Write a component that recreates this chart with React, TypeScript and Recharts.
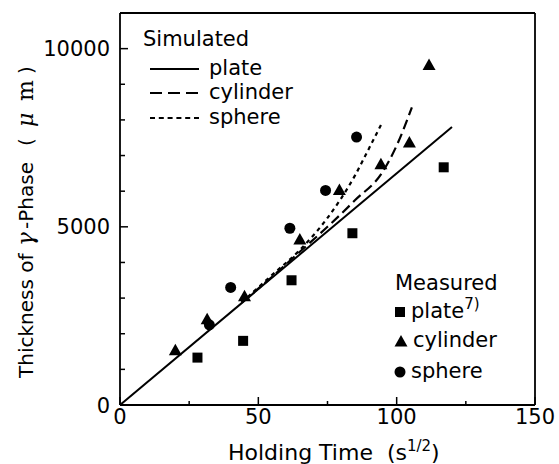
import React from 'react';
import { ComposedChart, Line, Scatter, XAxis, YAxis } from 'recharts';

const W = 559;
const H = 464;
const FONT = '"DejaVu Sans", "Liberation Sans", sans-serif';
const SERIF = '"DejaVu Serif", "Liberation Serif", serif';

// axis ticks
const X_TICKS = [0, 25, 50, 75, 100, 125, 150];
const X_MAJOR = [0, 50, 100, 150];
const Y_TICKS = [0, 1000, 2000, 3000, 4000, 5000, 6000, 7000, 8000, 9000, 10000, 11000];
const Y_MAJOR = [0, 5000, 10000];

// simulated curves (holding time s^1/2, thickness um)
const SIM_PLATE_X = [0, 120];
const SIM_PLATE_Y = [0, 7800];
const SIM_CYL_X = [44, 55, 65, 75, 85, 95, 100, 105.5];
const SIM_CYL_Y = [2880, 3600, 4300, 5000, 5750, 6550, 7280, 8350];
const SIM_SPH_X = [44, 55, 65, 75, 85, 90, 94.6];
const SIM_SPH_Y = [2880, 3650, 4350, 5250, 6450, 7200, 7900];

// measured points
const MEAS_PLATE_X = [28, 44.5, 62, 84, 117];
const MEAS_PLATE_Y = [1330, 1800, 3500, 4820, 6670];
const MEAS_CYL_X = [20, 31.5, 45, 65, 79.3, 94.3, 104.6, 111.7];
const MEAS_CYL_Y = [1520, 2390, 3040, 4630, 6020, 6740, 7350, 9530];
const MEAS_SPH_X = [32.3, 40, 61.4, 74.3, 85.5];
const MEAS_SPH_Y = [2250, 3300, 4960, 6020, 7520];

const zip = (xs: number[], ys: number[]) => xs.map((x, i) => ({ x, y: ys[i] }));

const simPlate = zip(SIM_PLATE_X, SIM_PLATE_Y);
const simCyl = zip(SIM_CYL_X, SIM_CYL_Y);
const simSph = zip(SIM_SPH_X, SIM_SPH_Y);
const measPlate = zip(MEAS_PLATE_X, MEAS_PLATE_Y);
const measCyl = zip(MEAS_CYL_X, MEAS_CYL_Y);
const measSph = zip(MEAS_SPH_X, MEAS_SPH_Y);

const CYL_DASH = '10 5';
const SPH_DASH = '4 4';

const Square = ({ cx, cy }: any) => <rect x={cx - 5} y={cy - 5} width={10} height={10} fill="#000" />;
const Triangle = ({ cx, cy }: any) => (
  <polygon points={`${cx},${cy - 7} ${cx - 6.5},${cy + 4.5} ${cx + 6.5},${cy + 4.5}`} fill="#000" />
);
const Dot = ({ cx, cy }: any) => <circle cx={cx} cy={cy} r={5.5} fill="#000" />;

const BottomTick = ({ x, y, payload }: any) => {
  const v = payload.value;
  const major = X_MAJOR.includes(v);
  return (
    <g>
      <line x1={x} x2={x} y1={y} y2={y - (major ? 8 : 4)} stroke="#000" strokeWidth={1.5} />
      {major && (
        <text x={x} y={y + 19} textAnchor="middle" fontSize={21} fontFamily={FONT} fill="#000">
          {v}
        </text>
      )}
    </g>
  );
};

const TopTick = ({ x, y, payload }: any) => {
  const major = X_MAJOR.includes(payload.value);
  return <line x1={x} x2={x} y1={y} y2={y + (major ? 8 : 4)} stroke="#000" strokeWidth={1.5} />;
};

const LeftTick = ({ x, y, payload }: any) => {
  const v = payload.value;
  const major = Y_MAJOR.includes(v);
  if (v > 10000) return null;
  return (
    <g>
      <line x1={x} x2={x + (major ? 8 : 5)} y1={y} y2={y} stroke="#000" strokeWidth={1.5} />
      {major && (
        <text x={x - 10} y={y + 7.5} textAnchor="end" fontSize={21} fontFamily={FONT} fill="#000">
          {v}
        </text>
      )}
    </g>
  );
};

const RightTick = ({ x, y, payload }: any) => {
  if (payload.value > 10000) return null;
  return <line x1={x} x2={x - 7} y1={y} y2={y} stroke="#000" strokeWidth={1.5} />;
};

// vertical text piece starting at (x, y) reading upwards
const VText = ({ x, y, children, ...rest }: any) => (
  <text x={x} y={y} transform={`rotate(-90, ${x}, ${y})`} {...rest}>
    {children}
  </text>
);

const axisLine = { stroke: '#000', strokeWidth: 1.8 };

export default function App() {
  return (
    <div style={{ position: 'absolute', left: 0, top: 0, width: W, height: H, background: '#fff' }}>
      <ComposedChart width={W} height={H} margin={{ top: 0, right: 0, bottom: 0, left: 0 }}>
        <XAxis
          xAxisId={0}
          dataKey="x"
          type="number"
          domain={[0, 150]}
          ticks={X_TICKS}
          interval={0}
          height={59}
          tickSize={0}
          tickMargin={0}
          tickLine={false}
          axisLine={axisLine}
          tick={<BottomTick />}
        />
        <XAxis
          xAxisId="top"
          orientation="top"
          dataKey="x"
          type="number"
          domain={[0, 150]}
          ticks={X_TICKS}
          interval={0}
          height={13}
          tickSize={0}
          tickMargin={0}
          tickLine={false}
          axisLine={axisLine}
          tick={<TopTick />}
        />
        <YAxis
          yAxisId={0}
          dataKey="y"
          type="number"
          domain={[0, 11000]}
          ticks={Y_TICKS}
          interval={0}
          width={120}
          tickSize={0}
          tickMargin={0}
          tickLine={false}
          axisLine={axisLine}
          tick={<LeftTick />}
        />
        <YAxis
          yAxisId="right"
          orientation="right"
          dataKey="y"
          type="number"
          domain={[0, 11000]}
          ticks={Y_TICKS}
          interval={0}
          width={24}
          tickSize={0}
          tickMargin={0}
          tickLine={false}
          axisLine={axisLine}
          tick={<RightTick />}
        />
        <Line data={simPlate} dataKey="y" type="linear" stroke="#000" strokeWidth={2} dot={false} activeDot={false} isAnimationActive={false} />
        <Line data={simCyl} dataKey="y" type="monotone" stroke="#000" strokeWidth={2.2} strokeDasharray={CYL_DASH} dot={false} activeDot={false} isAnimationActive={false} />
        <Line data={simSph} dataKey="y" type="monotone" stroke="#000" strokeWidth={2.2} strokeDasharray={SPH_DASH} dot={false} activeDot={false} isAnimationActive={false} />
        <Scatter data={measPlate} dataKey="y" shape={Square} isAnimationActive={false} />
        <Scatter data={measCyl} dataKey="y" shape={Triangle} isAnimationActive={false} />
        <Scatter data={measSph} dataKey="y" shape={Dot} isAnimationActive={false} />
      </ComposedChart>

      <svg
        width={W}
        height={H}
        style={{ position: 'absolute', left: 0, top: 0, pointerEvents: 'none' }}
        fontFamily={FONT}
        fontSize={21}
        fill="#000"
      >
        {/* simulated legend */}
        <text x={143} y={46}>Simulated</text>
        <line x1={150} x2={199} y1={69} y2={69} stroke="#000" strokeWidth={2} />
        <text x={209} y={75}>plate</text>
        <line x1={150} x2={199} y1={93} y2={93} stroke="#000" strokeWidth={2} strokeDasharray="12 6" />
        <text x={209} y={99}>cylinder</text>
        <line x1={150} x2={199} y1={118} y2={118} stroke="#000" strokeWidth={2} strokeDasharray="5 3.8" />
        <text x={209} y={124}>sphere</text>

        {/* measured legend */}
        <text x={395} y={290}>Measured</text>
        <Square cx={400} cy={312} />
        <text x={411} y={318}>
          plate<tspan fontSize={15} dy={-9}>7)</tspan>
        </text>
        <Triangle cx={401} cy={342} />
        <text x={413} y={347}>cylinder</text>
        <Dot cx={400} cy={372} />
        <text x={411} y={378}>sphere</text>

        {/* axis titles */}
        <text x={228} y={460} fontSize={22} xmlSpace="preserve">
          {'Holding Time  (s'}
          <tspan fontSize={15} dy={-9}>1/2</tspan>
          <tspan dy={9}>)</tspan>
        </text>
        <VText x={33} y={378} fontSize={20}>Thickness of</VText>
        <VText x={33} y={246} fontFamily={SERIF} fontStyle="italic" fontSize={23}>γ</VText>
        <VText x={33} y={229} fontSize={20}>-Phase</VText>
        <VText x={33} y={146} fontSize={20}>(</VText>
        <VText x={33} y={127} fontFamily={SERIF} fontStyle="italic" fontSize={22}>μ</VText>
        <VText x={33} y={101} fontFamily={SERIF} fontSize={22}>m</VText>
        <VText x={33} y={74} fontSize={20}>)</VText>
      </svg>
    </div>
  );
}
